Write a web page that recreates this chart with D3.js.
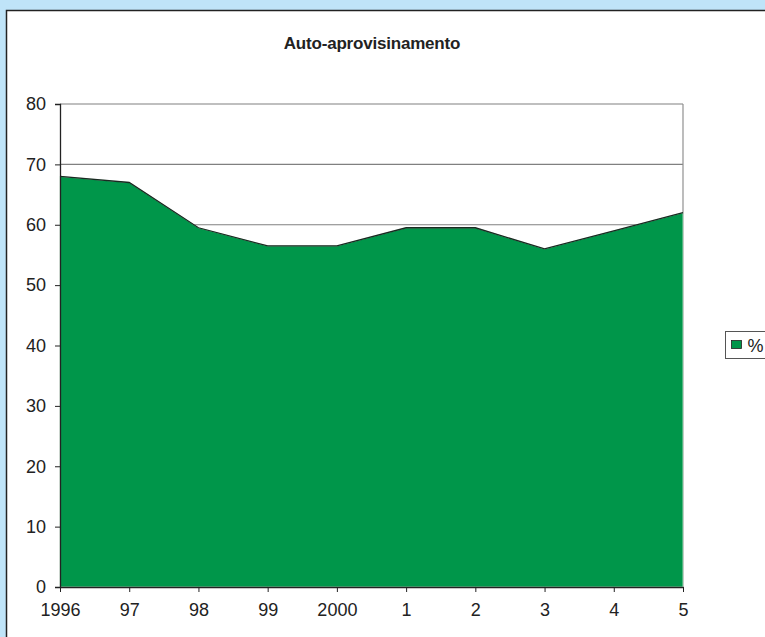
<!DOCTYPE html>
<html>
<head>
<meta charset="utf-8">
<script src="https://cdn.jsdelivr.net/npm/d3@7"></script>
<style>
  html, body { margin: 0; padding: 0; background: #bfe4f8; }
  svg { display: block; }
</style>
</head>
<body>
<svg id="chart" width="765" height="637"></svg>
<script>
// Years shown on the category axis
const categories = ["1996", "97", "98", "99", "2000", "1", "2", "3", "4", "5"];
// Self-supply percentage per year
const values = [68, 67, 59.5, 56.5, 56.5, 59.5, 59.5, 56, 59, 62];
// Value axis ticks
const yTicks = [0, 10, 20, 30, 40, 50, 60, 70, 80];
const seriesName = "%";
const chartTitle = "Auto-aprovisinamento";

const svg = d3.select("#chart");
const font = "'Liberation Sans', Arial, sans-serif";

// chart panel
svg.append("rect")
  .attr("x", 6.5).attr("y", 10.5)
  .attr("width", 770).attr("height", 640)
  .attr("fill", "#ffffff")
  .attr("stroke", "#222").attr("stroke-width", 1.5);

const plot = { left: 60, right: 683, top: 104, bottom: 587 };

const x = d3.scalePoint().domain(categories).range([plot.left, plot.right]);
const y = d3.scaleLinear().domain([0, 80]).range([plot.bottom, plot.top]);

// title
svg.append("text")
  .attr("x", 372).attr("y", 49)
  .attr("text-anchor", "middle")
  .attr("font-family", font).attr("font-weight", "bold")
  .attr("font-size", 17).attr("fill", "#222")
  .attr("letter-spacing", "-0.2")
  .text(chartTitle);

// horizontal gridlines
svg.append("g").selectAll("line")
  .data(yTicks.filter(d => d > 0))
  .join("line")
  .attr("x1", plot.left).attr("x2", plot.right)
  .attr("y1", d => y(d)).attr("y2", d => y(d))
  .attr("stroke", "#808080").attr("stroke-width", 1.2);

// right edge of plot area
svg.append("line")
  .attr("x1", plot.right).attr("x2", plot.right)
  .attr("y1", plot.top).attr("y2", plot.bottom)
  .attr("stroke", "#909090").attr("stroke-width", 1.2);

// area series
const data = categories.map((c, i) => ({ c, v: values[i] }));
const area = d3.area()
  .x(d => x(d.c))
  .y0(y(0))
  .y1(d => y(d.v));
svg.append("path")
  .datum(data)
  .attr("d", area)
  .attr("fill", "#00964a")
  .attr("stroke", "#c8e8d0").attr("stroke-width", 0.8);

const topLine = d3.line().x(d => x(d.c)).y(d => y(d.v));
svg.append("path")
  .datum(data)
  .attr("d", topLine)
  .attr("fill", "none")
  .attr("stroke", "#1a2a22").attr("stroke-width", 1.3);

// y axis
const yAxis = svg.append("g")
  .attr("transform", `translate(${plot.left},0)`)
  .call(d3.axisLeft(y).tickValues(yTicks).tickSize(5).tickPadding(9));
yAxis.select(".domain").attr("stroke", "#222").attr("stroke-width", 1.3);
yAxis.selectAll(".tick line").attr("stroke", "#222");
yAxis.selectAll("text")
  .attr("font-family", font).attr("font-size", 18).attr("fill", "#222");

// x axis
const xAxis = svg.append("g")
  .attr("transform", `translate(0,${plot.bottom})`)
  .call(d3.axisBottom(x).tickSize(5).tickPadding(11).tickSizeOuter(0));
xAxis.select(".domain").attr("stroke", "#222").attr("stroke-width", 1.6);
xAxis.selectAll(".tick line").attr("stroke", "#222");
xAxis.selectAll("text")
  .attr("font-family", font).attr("font-size", 18).attr("fill", "#222");

// legend
const lg = svg.append("g").attr("transform", "translate(725.5,331.5)");
lg.append("rect")
  .attr("width", 50).attr("height", 27)
  .attr("fill", "#fff").attr("stroke", "#555").attr("stroke-width", 1);
lg.append("rect")
  .attr("x", 6).attr("y", 9).attr("width", 10).attr("height", 8)
  .attr("fill", "#00964a").attr("stroke", "#222").attr("stroke-width", 0.8);
lg.append("text")
  .attr("x", 22).attr("y", 20)
  .attr("font-family", font).attr("font-size", 18).attr("fill", "#222")
  .text(seriesName);
</script>
</body>
</html>
